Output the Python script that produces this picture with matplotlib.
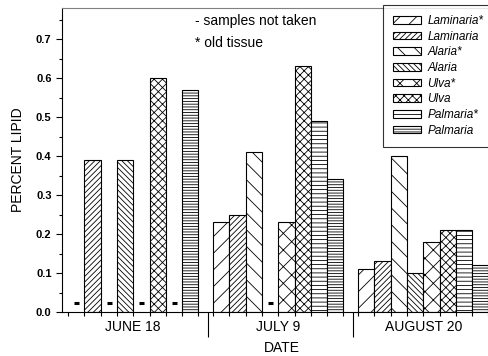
import numpy as np
import matplotlib.pyplot as plt
from matplotlib.transforms import blended_transform_factory

plt.rcParams['font.family'] = ['Liberation Sans', 'DejaVu Sans']
plt.rcParams['hatch.linewidth'] = 0.6

dates = ["JUNE 18", "JULY 9", "AUGUST 20"]
species = ["Laminaria*", "Laminaria", "Alaria*", "Alaria",
           "Ulva*", "Ulva", "Palmaria*", "Palmaria"]
hatches = ["//", "//////", "\\\\", "\\\\\\\\\\\\", "xx", "xxxx",
           "----", "------"]

# percent lipid per species for each date (None = samples not taken)
june = [None, 0.39, None, 0.39, None, 0.60, None, 0.57]
july = [0.23, 0.25, 0.41, None, 0.23, 0.63, 0.49, 0.34]
august = [0.11, 0.13, 0.40, 0.10, 0.18, 0.21, 0.21, 0.12]
values = [june, july, august]

n = len(species)
gap = 0.9
group_w = n + gap

fig = plt.figure(figsize=(4.89, 3.56), dpi=100)
ax = fig.add_axes([62 / 489, 44 / 356, 433 / 489, 304 / 356])

missing_x = []
for g, vals in enumerate(values):
    x0 = g * group_w
    for i, v in enumerate(vals):
        xc = x0 + i + 0.5
        if v is None:
            missing_x.append(xc)
            continue
        ax.bar(xc, v, width=1.0, facecolor="white", edgecolor="black",
               hatch=hatches[i], linewidth=0.8,
               label=species[i] if g == 2 else None)

# short bold dash where no sample was taken
ax.plot(missing_x, [0.022] * len(missing_x), ls="none", marker="_",
        markersize=3.6, markeredgewidth=2.2, color="black")

ax.set_xlim(-0.37, 26.2)
ax.set_ylim(0, 0.78)

# y axis
ax.set_yticks(np.arange(0, 0.71, 0.1))
ax.set_yticks(np.arange(0, 0.78, 0.05), minor=True)
ax.set_yticklabels([f"{t:.1f}" for t in np.arange(0, 0.71, 0.1)],
                   fontweight="bold", fontsize=8)
ax.tick_params(axis="y", which="major", length=4, width=0.8, direction="out")
ax.tick_params(axis="y", which="minor", length=2, width=0.8, direction="out")

# x axis: short ticks at bar edges, long separators between dates
edges = [g * group_w + k for g in range(3) for k in range(n + 1)]
seps = [n + 0.6, group_w + n + 0.6]
ax.set_xticks(seps)
ax.set_xticklabels(["", ""])
ax.set_xticks(edges, minor=True)
ax.tick_params(axis="x", which="major", length=18, width=0.8, direction="out")
ax.tick_params(axis="x", which="minor", length=3, width=0.8, direction="out")

trans = blended_transform_factory(ax.transData, ax.transAxes)
for g, d in enumerate(dates):
    ax.text(g * group_w + n / 2, -0.05, d, transform=trans,
            ha="center", va="center", fontsize=10)

fig.text(282 / 489, 1 - 348 / 356, "DATE", fontsize=10,
         ha="center", va="center")
ax.set_ylabel("PERCENT LIPID", fontsize=10, labelpad=8)

for s in ["left", "bottom", "right"]:
    ax.spines[s].set_linewidth(0.8)
ax.spines["top"].set_color("0.5")

fig.text(195 / 489, 1 - 21 / 356, "- samples not taken", fontsize=10,
         va="center")
fig.text(195 / 489, 1 - 43 / 356, "* old tissue", fontsize=10, va="center")

# legend box runs off the right edge of the figure
leg = ax.legend(loc="upper left",
                bbox_to_anchor=(383 / 489, 1 - 5 / 356, 0.3, 0),
                bbox_transform=fig.transFigure, mode="expand",
                frameon=True, fancybox=False,
                prop={"style": "italic", "size": 8.5}, handlelength=2.4,
                handleheight=0.6, handletextpad=0.5, labelspacing=0.31,
                borderaxespad=0, borderpad=0.85)
leg.get_frame().set_edgecolor("black")
leg.get_frame().set_linewidth(0.8)

fig.savefig("out.png", dpi=100)
